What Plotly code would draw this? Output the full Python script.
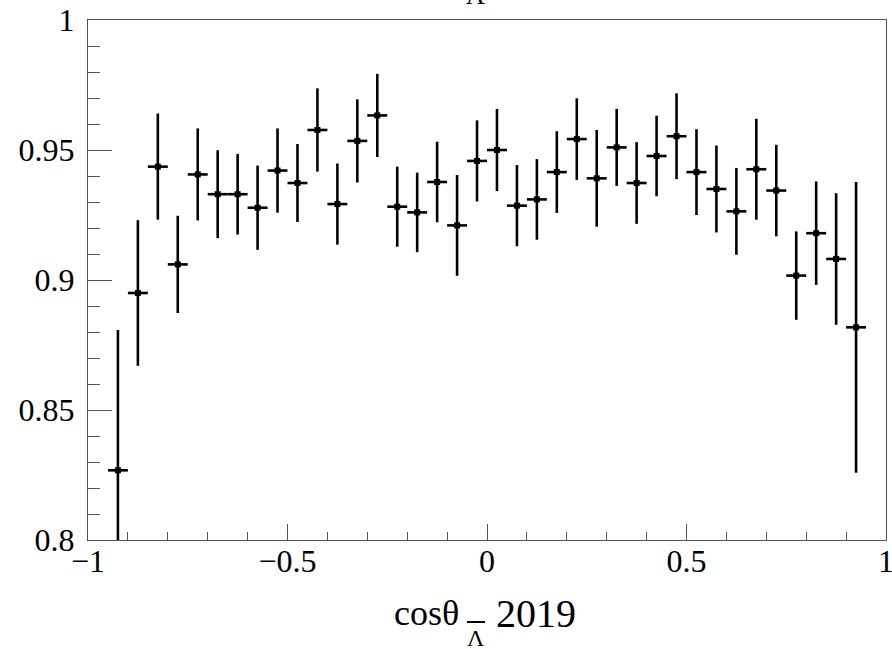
import plotly.graph_objects as go

# bin centres of cos(theta) (bin width 0.05)
x_centres = [-0.925, -0.875, -0.825, -0.775, -0.725, -0.675, -0.625, -0.575, -0.525, -0.475,
             -0.425, -0.375, -0.325, -0.275, -0.225, -0.175, -0.125, -0.075, -0.025, 0.025,
             0.075, 0.125, 0.175, 0.225, 0.275, 0.325, 0.375, 0.425, 0.475, 0.525,
             0.575, 0.625, 0.675, 0.725, 0.775, 0.825, 0.875, 0.925]
x_halfwidth = [0.025] * 38

efficiency = [0.8268, 0.8950, 0.9436, 0.9060, 0.9406, 0.9330, 0.9330, 0.9278, 0.9421, 0.9373,
              0.9577, 0.9292, 0.9535, 0.9633, 0.9282, 0.9260, 0.9377, 0.9210, 0.9458, 0.9500,
              0.9286, 0.9310, 0.9415, 0.9542, 0.9391, 0.9510, 0.9373, 0.9477, 0.9553, 0.9415,
              0.9350, 0.9264, 0.9426, 0.9344, 0.9017, 0.9180, 0.9081, 0.8818]
errors = [0.0540, 0.0280, 0.0204, 0.0187, 0.0177, 0.0169, 0.0155, 0.0162, 0.0162, 0.0150,
          0.0160, 0.0156, 0.0160, 0.0160, 0.0154, 0.0153, 0.0155, 0.0194, 0.0156, 0.0158,
          0.0156, 0.0155, 0.0157, 0.0157, 0.0186, 0.0148, 0.0157, 0.0155, 0.0165, 0.0165,
          0.0167, 0.0167, 0.0194, 0.0176, 0.0170, 0.0199, 0.0253, 0.0559]

x_tickvals = [-1, -0.5, 0, 0.5, 1]
y_tickvals = [0.8, 0.85, 0.9, 0.95, 1]

FONT = "Liberation Serif"
W, H = 892, 649
L, R, T, B = 88, 6, 20, 109
PW = W - L - R
PH = H - T - B


def px_x(p):
    return (p - L) / PW


def px_y(p):
    return 1 - (p - T) / PH


fig = go.Figure()
fig.add_trace(go.Scatter(
    x=x_centres, y=efficiency, mode="markers",
    marker=dict(symbol="square", size=6, color="black"),
    error_y=dict(type="data", array=errors, symmetric=True, color="black", thickness=2.6, width=0),
    error_x=dict(type="data", array=x_halfwidth, symmetric=True, color="black", thickness=2.6, width=0),
    showlegend=False,
))

axis_common = dict(
    ticks="inside", tickwidth=1, tickcolor="#555", showgrid=False, zeroline=False,
    showline=True, linecolor="#555", linewidth=1.2, mirror=True, automargin=False,
    tickfont=dict(size=32, family=FONT, color="black"), ticklabeloverflow="allow",
)

fig.update_layout(
    width=W, height=H,
    margin=dict(l=L, r=R, t=T, b=B, pad=0, autoexpand=False),
    paper_bgcolor="white", plot_bgcolor="white",
    font=dict(family=FONT, color="black"),
    xaxis=dict(
        range=[-1, 1], tickvals=x_tickvals, ticklen=16,
        minor=dict(dtick=0.1, tick0=0, ticks="inside", ticklen=8, tickwidth=1, tickcolor="#555", showgrid=False),
        ticklabelstandoff=-8, **axis_common,
    ),
    yaxis=dict(
        range=[0.8, 1], tickvals=y_tickvals, ticklen=24,
        minor=dict(dtick=0.01, tick0=0.8, ticks="inside", ticklen=12, tickwidth=1, tickcolor="#555", showgrid=False),
        ticklabelstandoff=6, **axis_common,
    ),
    annotations=[
        dict(text="cosθ", xref="paper", yref="paper", x=px_x(461), y=px_y(591),
             xanchor="right", yanchor="top", showarrow=False, font=dict(size=36, family=FONT)),
        dict(text="Λ", xref="paper", yref="paper", x=px_x(476), y=px_y(623),
             xanchor="center", yanchor="top", showarrow=False, font=dict(size=24, family=FONT)),
        dict(text="2019", xref="paper", yref="paper", x=px_x(494), y=px_y(589),
             xanchor="left", yanchor="top", showarrow=False, font=dict(size=40, family=FONT)),
        dict(text="Λ", xref="x", yref="paper", x=-0.03, y=px_y(12),
             xanchor="center", yanchor="bottom", showarrow=False, font=dict(size=26, family=FONT)),
    ],
    shapes=[
        dict(type="line", xref="paper", yref="paper", x0=px_x(467), x1=px_x(485),
             y0=px_y(622), y1=px_y(622), line=dict(color="black", width=2)),
    ],
)

fig.write_html("out.html")
